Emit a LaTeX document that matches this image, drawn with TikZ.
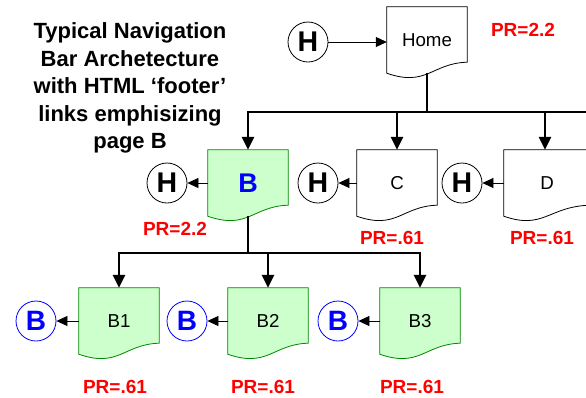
\documentclass[tikz,border=0pt]{standalone}
\usepackage{fontspec}
\setmainfont{Liberation Sans}
\usetikzlibrary{arrows.meta,backgrounds}

\definecolor{pageGreen}{HTML}{CCFFCC}
\definecolor{edgeGreen}{HTML}{008800}
\definecolor{linkBlue}{HTML}{0000FF}
\definecolor{prRed}{HTML}{FF0000}

%% page outline with a wavy bottom, drawn behind the node text
\newcommand{\pageOutline}[2]{%
  \begin{pgfonlayer}{background}
  \draw[#2] (#1.north west) -- (#1.south west)
    .. controls ([xshift=40pt,yshift=-14pt]#1.south west) and ([xshift=45pt,yshift=10pt]#1.south west)
    .. ([yshift=11pt]#1.south east) -- (#1.north east) -- cycle;
  \end{pgfonlayer}}

\begin{document}
\begin{tikzpicture}
[x=1pt,y=1pt,
  pageDecorate/.style={shape=rectangle,minimum width=80pt,minimum height=66pt,inner sep=0pt,
    font=\fontsize{18.7}{21}\selectfont},
  plainPage/.style={draw=black,fill=white,line width=0.8pt},
  greenPage/.style={draw=edgeGreen,fill=pageGreen,line width=0.8pt},
  homeDecorate/.style={shape=circle,draw,line width=0.8pt,minimum size=40pt,inner sep=0pt,
    font=\bfseries\fontsize{28.5}{30}\selectfont},
  backDecorate/.style={homeDecorate,draw=linkBlue,text=linkBlue,font=\bfseries\fontsize{28}{30}\selectfont},
  treeLine/.style={line width=2.4pt},
  treeDecorate/.style={treeLine,-{Triangle[length=13pt,width=12pt]}},
  linkDecorate/.style={line width=0.8pt,-{Triangle[length=11pt,width=10pt]}},
  prDecorate/.style={text=prRed,font=\bfseries\fontsize{19}{21}\selectfont}]
\useasboundingbox (0,0) rectangle (586,-397);
%% title
\node (title) at (130,-88) [align=center,font=\bfseries\fontsize{22}{27.5}\selectfont]
  {Typical Navigation\\Bar Archetecture\\with HTML ‘footer’\\links emphisizing\\page B};
%% pages
\node (home) at (427,-40) [pageDecorate] {Home};
\node (b) at (248,-183) [pageDecorate,text=linkBlue,font=\bfseries\fontsize{27}{30}\selectfont] {B};
\node (c) at (397,-183) [pageDecorate] {C};
\node (d) at (547,-183) [pageDecorate,minimum width=86pt] {D};
\foreach \pagename/\x/\pagelabel in {b1/119/B1, b2/268/B2, b3/420/B3}
{
  \node (\pagename) at (\x,-321) [pageDecorate] {\pagelabel};
}
\foreach \pagename in {home,c,d}
{
  \pageOutline{\pagename}{plainPage}
}
\foreach \pagename in {b,b1,b2,b3}
{
  \pageOutline{\pagename}{greenPage}
}
%% home and back links
\node (hHome) at (308,-42) [homeDecorate] {H};
\foreach \nodename/\x in {hB/167, hC/318, hD/462}
{
  \node (\nodename) at (\x,-183) [homeDecorate] {H};
}
\foreach \nodename/\x in {bB1/36, bB2/187, bB3/338}
{
  \node (\nodename) at (\x,-321) [backDecorate] {B};
}
\draw[linkDecorate] (hHome) -- (hHome -| home.west);
\foreach \startnode/\endnode in {b/hB, c/hC, d/hD, b1/bB1, b2/bB2, b3/bB3}
{
  \draw[linkDecorate] (\startnode.west) -- (\endnode);
}
%% navigation tree
\coordinate (homeJoin) at (427,-112);
\coordinate (barEnd) at (590,-112);
\coordinate (bJoin) at (248,-253);
\draw[treeLine] (home.south) -- (homeJoin);
\draw[treeLine] (homeJoin) -- (barEnd);
\draw[treeDecorate] (homeJoin) -| (b.north);
\draw[treeDecorate] (c.north |- homeJoin) -- (c.north);
\draw[treeDecorate] ([xshift=-2pt]d.north |- homeJoin) -- ([xshift=-2pt]d.north);
\draw[treeLine] (b.south) -- (bJoin);
\draw[treeDecorate] (bJoin) -| (b1.north);
\draw[treeDecorate] (bJoin) -| (b3.north);
\draw[treeDecorate] (b2.north |- bJoin) -- (b2.north);
%% page ranks
\foreach \prname/\x/\y/\prvalue in {prHome/523/-30/2.2, prB/175/-229/2.2, prC/392/-238/.61,
  prD/542/-238/.61, prB1/115/-387/.61, prB2/263/-387/.61, prB3/412/-387/.61}
{
  \node (\prname) at (\x,\y) [prDecorate] {PR=\prvalue};
}
\end{tikzpicture}
\end{document}
